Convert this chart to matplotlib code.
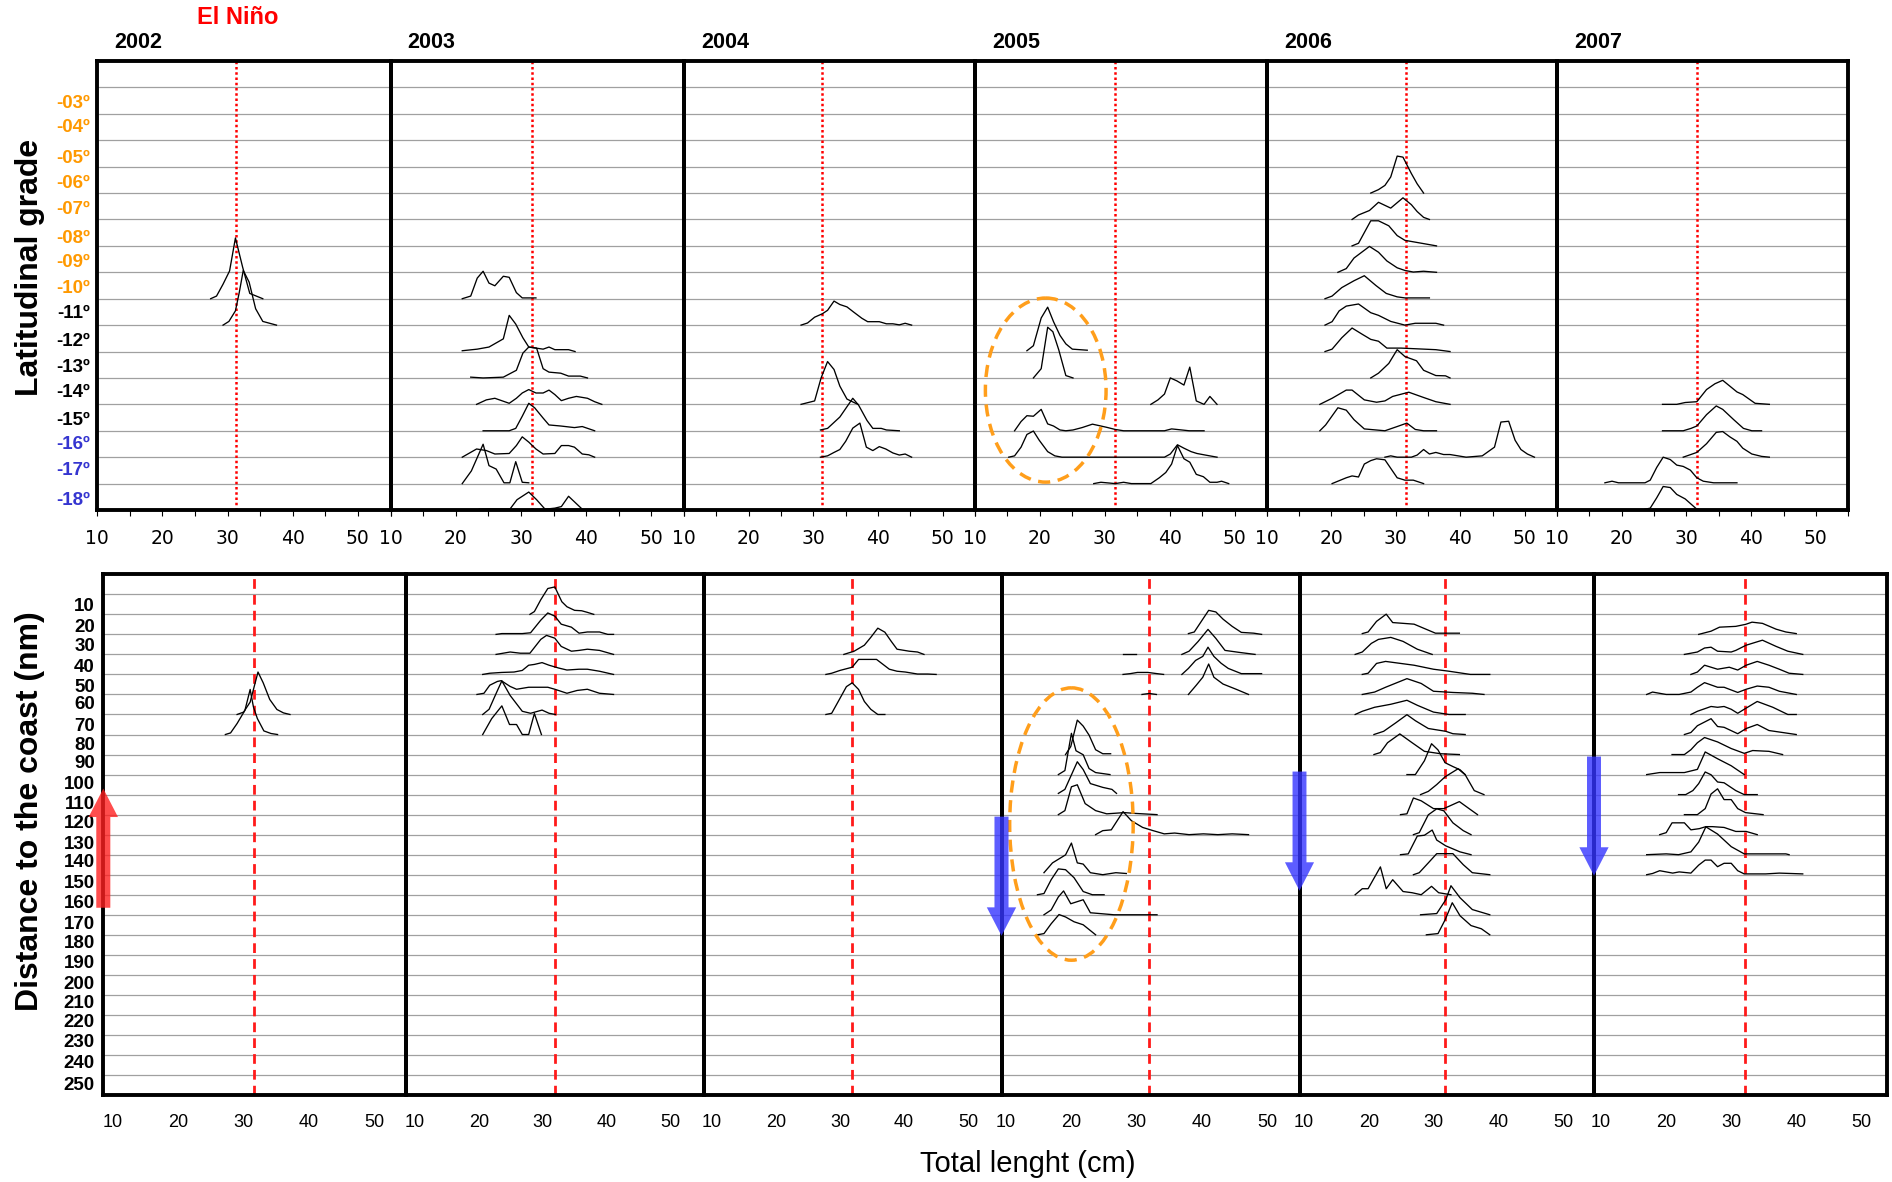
import matplotlib
matplotlib.use("Agg")
import matplotlib.pyplot as plt
from matplotlib.patches import Ellipse, FancyArrow

plt.rcParams['font.family'] = ['Liberation Sans', 'DejaVu Sans']

years = ['2002', '2003', '2004', '2005', '2006', '2007']

lat_labels = ['-03º', '-04º', '-05º', '-06º', '-07º', '-08º', '-09º', '-10º',
              '-11º', '-12º', '-13º', '-14º', '-15º', '-16º', '-17º', '-18º']
lat_pos = [1.54, 2.46, 3.62, 4.55, 5.54, 6.63, 7.55, 8.55,
           9.47, 10.54, 11.52, 12.46, 13.53, 14.46, 15.43, 16.57]
lat_colors = ['#ff9900'] * 8 + ['black'] * 5 + ['#3535d0'] * 3

dist_labels = [str(v) for v in range(10, 251, 10)]
dist_pos = [1.53, 2.57, 3.53, 4.57, 5.57, 6.42, 7.48, 8.44, 9.37, 10.4, 11.37, 12.35, 13.4,
            14.31, 15.35, 16.32, 17.4, 18.35, 19.35, 20.4, 21.34, 22.29, 23.26, 24.34, 25.41]

# reference length (red lines)
top_ref = [31.3, 31.7, 31.4, 31.5, 31.6, 31.6]
bot_ref = [31.6, 32.0, 31.8, 31.8, 31.8, 32.1]

# curves: (baseline row, total length cm, relative frequency in row units)
top_2002 = [
    (9, [27.4, 28.3, 29.3, 30.3, 31.2, 32.3, 33.4, 35.4], [0, 0.1, 0.55, 1.05, 2.3, 1.2, 0.2, 0]),
    (10, [29.3, 30.2, 31.2, 31.8, 32.4, 33.3, 34.3, 35.4, 37.5], [0, 0.14, 0.54, 1.25, 2.07, 1.63, 0.62, 0.14, 0]),
]
top_2003 = [
    (9, [21.0, 22.3, 23.3, 24.2, 25.1, 26.0, 27.3, 28.2, 29.3, 30.2, 32.3],
     [0, 0.1, 0.78, 1.04, 0.59, 0.49, 0.85, 0.81, 0.23, 0.03, 0.03]),
    (11, [21.0, 23.3, 25.1, 27.3, 28.2, 29.2, 30.3, 31.2, 32.3, 33.4, 34.3, 35.2, 37.3, 38.3],
     [0.03, 0.09, 0.17, 0.48, 1.37, 1.04, 0.52, 0.17, 0.13, 0.09, 0.17, 0.07, 0.07, 0]),
    (12, [22.3, 24.2, 27.3, 29.3, 30.3, 31.2, 32.4, 33.4, 34.3, 36.1, 37.3, 39.1, 40.2],
     [0.03, 0, 0.03, 0.29, 0.94, 1.17, 1.13, 0.35, 0.22, 0.18, 0.07, 0.07, 0]),
    (13, [23.2, 24.7, 26.0, 28.2, 29.3, 30.2, 31.2, 32.3, 33.4, 34.3, 35.2, 36.2, 37.3, 38.5, 40.2, 41.3, 42.4],
     [0, 0.17, 0.23, 0.04, 0.23, 0.43, 0.56, 0.43, 0.43, 0.54, 0.37, 0.14, 0.23, 0.3, 0.23, 0.1, 0]),
    (14, [24.2, 28.2, 29.2, 30.2, 31.2, 32.1, 33.4, 34.3, 36.1, 38.2, 39.4, 41.3],
     [0, 0, 0.09, 0.55, 1.04, 0.87, 0.48, 0.22, 0.18, 0.12, 0.16, 0]),
    (15, [21.0, 23.2, 24.7, 26.0, 28.2, 29.3, 30.2, 31.2, 32.3, 33.4, 35.2, 36.2, 37.3, 38.2, 39.4, 40.4, 41.3],
     [0, 0.31, 0.25, 0.12, 0.14, 0.44, 0.77, 0.57, 0.31, 0.12, 0.14, 0.44, 0.44, 0.38, 0.12, 0.09, 0]),
    (16, [21.0, 22.4, 24.2, 25.1, 26.2, 27.4, 28.3, 29.2, 30.2, 31.2],
     [0, 0.48, 1.49, 0.68, 0.55, 0.03, 0.03, 0.83, 0.05, 0.03]),
    (17, [23.6, 25.1, 28.3, 29.4, 31.2, 32.4, 33.7, 35.2, 36.2, 37.3, 39.4],
     [0.03, 0.04, 0.03, 0.39, 0.68, 0.39, 0.03, 0.07, 0.13, 0.52, 0.03]),
]
top_2004 = [
    (10, [28.1, 29.1, 30.2, 31.4, 32.2, 33.2, 34.1, 35.2, 36.2, 37.5, 38.4, 40.2, 41.3, 42.3, 43.3, 44.2, 45.2],
     [0, 0.08, 0.3, 0.43, 0.56, 0.91, 0.78, 0.69, 0.5, 0.26, 0.13, 0.13, 0.05, 0.05, 0.01, 0.07, 0]),
    (13, [28.1, 30.2, 31.2, 32.2, 33.2, 34.1, 35.2, 36.2, 36.9], [0, 0.13, 1.0, 1.62, 1.32, 0.69, 0.2, 0.08, 0]),
    (14, [31.1, 32.2, 34.1, 36.1, 37.0, 38.3, 39.2, 40.5, 41.3, 43.3],
     [0.03, 0.09, 0.52, 1.23, 0.97, 0.39, 0.09, 0.09, 0.03, 0]),
    (15, [31.1, 32.2, 33.2, 34.1, 35.0, 36.1, 37.2, 38.2, 39.2, 40.2, 41.2, 42.3, 43.3, 44.2, 45.2],
     [0, 0.05, 0.18, 0.29, 0.6, 1.1, 1.29, 0.38, 0.25, 0.4, 0.31, 0.16, 0.08, 0.12, 0]),
]
top_2005 = [
    (11, [18.0, 19.0, 20.2, 21.2, 22.1, 23.1, 24.0, 25.0, 27.3], [0.03, 0.22, 1.27, 1.68, 1.13, 0.61, 0.29, 0.09, 0.05]),
    (12, [19.0, 20.2, 21.2, 22.0, 22.9, 24.0, 25.1], [0, 0.35, 1.92, 1.75, 1.07, 0.09, 0]),
    (13, [37.1, 38.2, 39.2, 40.1, 41.1, 42.2, 43.1, 44.1, 45.3, 46.2, 47.3],
     [0, 0.17, 0.39, 1.0, 0.89, 0.73, 1.41, 0.13, 0, 0.3, 0]),
    (14, [16.1, 17.1, 18.0, 19.0, 20.2, 21.2, 22.1, 23.1, 24.0, 25.1, 26.5, 28.1, 29.4, 30.3, 31.6, 32.9, 37.9, 39.2,
          40.3, 41.1, 43.0, 45.3],
     [0, 0.35, 0.57, 0.55, 0.81, 0.26, 0.18, 0.03, 0, 0.03, 0.12, 0.25, 0.18, 0.13, 0.05, 0, 0, 0, 0.07, 0.05, 0, 0]),
    (15, [15.2, 16.1, 17.1, 18.0, 19.0, 19.9, 21.2, 22.3, 23.4, 39.2, 40.1, 41.2, 42.2, 43.3, 44.2, 45.5, 47.3],
     [0, 0.05, 0.38, 0.86, 0.99, 0.64, 0.21, 0.05, 0, 0, 0.12, 0.47, 0.34, 0.21, 0.14, 0.08, 0]),
    (16, [28.3, 29.4, 30.3, 31.6, 32.9, 34.1, 37.1, 38.4, 39.4, 40.3, 41.2, 42.2, 43.1, 44.1, 45.2, 46.2, 47.3, 48.0, 49.1],
     [0, 0.05, 0.03, 0, 0.05, 0, 0, 0.22, 0.42, 0.74, 1.44, 0.94, 0.81, 0.35, 0.26, 0.05, 0.05, 0.09, 0]),
]
top_2006 = [
    (5, [26.1, 27.3, 28.3, 29.2, 30.2, 31.1, 32.4, 33.3, 34.3], [0, 0.13, 0.29, 0.61, 1.4, 1.36, 0.74, 0.35, 0]),
    (6, [23.2, 24.2, 25.9, 27.3, 29.2, 31.1, 32.4, 33.3, 34.3, 35.2], [0, 0.17, 0.34, 0.65, 0.43, 0.82, 0.56, 0.3, 0.08, 0]),
    (7, [23.2, 24.2, 26.1, 27.3, 28.9, 30.2, 31.4, 36.3], [0, 0.1, 0.95, 0.95, 0.76, 0.39, 0.21, 0]),
    (8, [21.0, 22.3, 23.5, 25.9, 27.3, 28.6, 30.2, 31.4, 32.7, 34.3, 36.3],
     [0, 0.14, 0.54, 0.98, 0.76, 0.43, 0.17, 0.07, 0.01, 0.04, 0]),
    (9, [19.0, 20.1, 21.6, 23.5, 25.1, 26.9, 28.5, 30.2, 31.4, 35.2], [0, 0.1, 0.42, 0.68, 0.87, 0.5, 0.2, 0.07, 0.03, 0.03]),
    (10, [19.0, 20.1, 21.2, 22.3, 24.2, 26.1, 27.3, 29.2, 31.4, 33.0, 36.2, 37.4],
     [0, 0.13, 0.54, 0.72, 0.8, 0.47, 0.37, 0.14, 0, 0.07, 0.07, 0]),
    (11, [19.0, 20.1, 21.6, 23.2, 24.8, 26.1, 27.3, 28.6, 30.8, 36.2, 38.4],
     [0, 0.09, 0.52, 0.89, 0.65, 0.46, 0.39, 0.13, 0.13, 0.07, 0]),
    (12, [26.1, 27.3, 28.9, 30.2, 31.4, 33.2, 34.3, 36.2, 37.7, 38.4], [0, 0.18, 0.55, 1.07, 0.81, 0.65, 0.29, 0.09, 0.08, 0]),
    (13, [18.2, 20.1, 22.3, 23.2, 25.1, 27.0, 28.3, 29.5, 32.0, 34.3, 36.2, 38.4],
     [0, 0.23, 0.54, 0.54, 0.17, 0.08, 0.13, 0.3, 0.46, 0.26, 0.1, 0]),
    (14, [18.2, 19.1, 21.0, 22.3, 23.5, 25.1, 28.3, 30.2, 31.7, 33.0, 34.3, 36.3],
     [0, 0.22, 0.87, 0.78, 0.42, 0.07, 0, 0.16, 0.29, 0.05, 0, 0]),
    (15, [28.3, 29.2, 30.2, 32.4, 33.3, 34.3, 35.2, 36.2, 37.4, 38.4, 40.9, 43.4, 45.3, 46.3, 47.5, 48.5, 49.4, 50.4, 51.5],
     [0, 0.05, 0, 0, 0.08, 0.29, 0.12, 0.18, 0.1, 0.1, 0, 0.05, 0.38, 1.33, 1.36, 0.64, 0.29, 0.12, 0]),
    (16, [20.1, 22.3, 23.2, 24.2, 25.1, 26.1, 27.0, 28.3, 30.2, 31.4, 32.7, 34.3],
     [0, 0.22, 0.29, 0.25, 0.74, 0.87, 0.94, 0.9, 0.22, 0.13, 0.13, 0]),
]
top_2007 = [
    (13, [26.3, 28.5, 29.8, 31.6, 33.1, 34.4, 35.6, 36.7, 37.8, 38.7, 40.6, 42.8],
     [0, 0, 0.07, 0.1, 0.56, 0.78, 0.91, 0.69, 0.47, 0.37, 0.04, 0]),
    (14, [26.3, 29.5, 30.7, 31.6, 33.1, 34.6, 35.6, 37.3, 38.8, 40.1, 41.6], [0, 0, 0.09, 0.18, 0.61, 0.94, 0.81, 0.42, 0.09, 0, 0]),
    (15, [29.5, 31.6, 33.1, 34.6, 35.6, 36.7, 37.8, 38.7, 40.1, 41.6, 42.8], [0, 0.18, 0.51, 0.94, 0.97, 0.77, 0.6, 0.34, 0.12, 0.03, 0]),
    (16, [17.4, 18.5, 19.5, 23.6, 24.4, 25.4, 26.4, 27.5, 28.5, 29.5, 30.6, 31.6, 32.6, 34.2, 37.8],
     [0.03, 0.09, 0.03, 0.03, 0.13, 0.61, 1.0, 0.91, 0.7, 0.65, 0.51, 0.22, 0.09, 0.03, 0.03]),
    (17, [23.6, 24.4, 25.4, 26.4, 27.5, 28.5, 29.8, 31.6], [0.03, 0.07, 0.46, 0.89, 0.85, 0.59, 0.42, 0.03]),
]

bot_2002 = [
    (7, [29.0, 30.0, 31.0, 32.2, 33.0, 34.0, 35.1, 36.1, 37.1], [0, 0.12, 0.62, 2.12, 1.58, 0.75, 0.25, 0.08, 0]),
    (8, [27.2, 28.0, 29.0, 30.2, 31.0, 31.5, 32.1, 33.1, 34.2, 35.2], [0, 0.08, 0.55, 1.21, 2.25, 1.38, 0.8, 0.18, 0.05, 0]),
]
bot_2003 = [
    (2, [28.0, 28.7, 29.7, 30.8, 31.9, 33.0, 33.8, 35.0, 36.1, 37.0, 38.0], [0, 0.14, 0.73, 1.29, 1.37, 0.63, 0.38, 0.2, 0.18, 0.1, 0]),
    (3, [22.7, 23.6, 26.8, 28.1, 29.7, 30.8, 31.9, 32.9, 34.5, 35.7, 37.0, 38.9, 40.2, 41.1],
     [0, 0.04, 0.04, 0.08, 0.71, 1.07, 0.91, 0.51, 0.36, 0.06, 0.12, 0.12, 0, 0]),
    (4, [22.7, 24.9, 26.5, 28.0, 29.7, 30.6, 31.9, 32.9, 34.5, 35.7, 37.0, 38.9, 41.1],
     [0, 0.12, 0.06, 0.06, 0.75, 0.95, 0.81, 0.4, 0.16, 0.2, 0.26, 0.2, 0]),
    (5, [20.6, 21.7, 23.6, 25.5, 26.8, 27.8, 28.7, 29.9, 31.0, 32.5, 33.8, 35.7, 37.0, 38.9, 41.1],
     [0, 0.06, 0.1, 0.12, 0.2, 0.46, 0.5, 0.59, 0.46, 0.32, 0.22, 0.26, 0.26, 0.16, 0]),
    (6, [19.7, 20.8, 21.7, 22.9, 23.5, 24.9, 25.9, 27.8, 30.8, 31.9, 33.8, 35.4, 37.0, 38.9, 41.1],
     [0, 0.06, 0.46, 0.65, 0.69, 0.4, 0.26, 0.36, 0.36, 0.26, 0.06, 0.2, 0.26, 0.06, 0]),
    (7, [20.6, 21.6, 22.7, 23.6, 24.9, 26.8, 28.1, 29.9, 31.0, 32.0], [0, 0.26, 1.05, 1.68, 0.95, 0.16, 0.06, 0.22, 0.06, 0]),
    (8, [20.6, 22.0, 23.6, 24.8, 25.9, 26.8, 27.8, 28.7, 29.8], [0, 0.79, 1.43, 0.5, 0.5, 0, 0, 1.05, 0]),
]
bot_2004 = [
    (4, [30.6, 32.2, 33.8, 34.8, 35.9, 37.0, 38.0, 38.9, 40.8, 42.1, 43.1], [0, 0.16, 0.46, 0.85, 1.31, 1.11, 0.65, 0.26, 0.16, 0.12, 0]),
    (5, [27.8, 28.7, 30.0, 31.9, 32.9, 35.7, 37.7, 38.9, 40.2, 42.1, 43.7, 45.0],
     [0, 0.06, 0.2, 0.36, 0.75, 0.75, 0.26, 0.16, 0.12, 0.02, 0.02, 0]),
    (7, [27.8, 28.7, 29.9, 31.0, 31.9, 32.9, 33.8, 34.8, 35.9, 37.0], [0, 0.06, 0.75, 1.39, 1.58, 1.25, 0.65, 0.26, 0, 0]),
]
bot_2005 = [
    (3, [37.9, 38.8, 40.1, 41.0, 42.1, 43.2, 44.6, 46.0, 47.9, 49.1], [0.04, 0.12, 0.76, 1.2, 1.12, 0.76, 0.4, 0.1, 0.06, 0]),
    (4, [27.9, 29.9], [0, 0]),
    (4, [36.9, 38.0, 39.4, 40.9, 42.1, 43.5, 45.7, 48.1], [0, 0.16, 0.65, 1.25, 0.8, 0.2, 0.1, 0]),
    (5, [27.9, 29.0, 30.1, 31.7, 33.1, 34.1], [0, 0.04, 0.1, 0.1, 0.04, 0]),
    (5, [36.9, 37.9, 39.0, 40.1, 40.9, 41.8, 42.9, 44.0, 46.0, 49.1], [0, 0.3, 0.7, 0.9, 1.36, 0.9, 0.56, 0.3, 0.04, 0.04]),
    (6, [30.8, 31.9, 33.0], [0, 0.05, 0]),
    (6, [37.9, 39.1, 40.1, 41.0, 41.8, 43.2, 45.2, 47.1], [0, 0.46, 0.86, 1.52, 0.86, 0.52, 0.26, 0]),
    (9, [19.1, 19.9, 20.9, 21.8, 22.7, 23.7, 24.8, 26.0], [0, 0.4, 1.72, 1.42, 0.97, 0.24, 0.04, 0.04]),
    (10, [18.0, 19.0, 20.0, 20.7, 21.8, 22.7, 23.7, 25.9], [0, 0.2, 2.06, 1.19, 0.99, 0.3, 0.1, 0]),
    (11, [18.0, 19.0, 20.9, 21.8, 22.9, 24.8, 26.2, 26.9], [0.06, 0.26, 1.64, 1.25, 0.55, 0.36, 0.26, 0.06]),
    (12, [18.0, 19.0, 20.0, 20.9, 22.1, 23.7, 25.4, 28.1, 29.8, 33.1], [0, 0.2, 1.39, 1.49, 0.55, 0.2, 0.04, 0.1, 0.06, 0]),
    (13, [23.7, 24.8, 26.1, 27.9, 29.2, 30.9, 32.5, 34.2, 35.8, 38.0, 40.2, 42.4, 44.6, 47.1],
     [0, 0.2, 0.24, 1.15, 0.69, 0.36, 0.2, 0.04, 0.08, 0, 0.04, 0, 0.04, 0]),
    (15, [15.8, 17.1, 19.1, 20.0, 20.9, 21.8, 22.9, 24.8, 26.8, 28.4], [0.1, 0.59, 0.99, 1.58, 0.59, 0.53, 0.1, 0, 0.1, 0.06]),
    (16, [14.8, 15.8, 16.9, 18.0, 19.1, 20.4, 21.8, 23.2, 25.0], [0, 0.06, 0.75, 1.29, 1.25, 0.85, 0.16, 0, 0]),
    (17, [15.8, 16.9, 18.0, 18.8, 19.9, 21.8, 22.9, 26.5, 33.1], [0, 0.24, 0.89, 1.19, 0.55, 0.75, 0.1, 0, 0]),
    (18, [14.8, 15.8, 16.9, 18.1, 19.1, 20.4, 21.8, 23.7], [0, 0.06, 0.55, 1.01, 0.89, 0.65, 0.5, 0]),
]
bot_2006 = [
    (3, [19.0, 19.9, 21.2, 22.7, 23.7, 27.0, 30.3, 34.0], [0.04, 0.12, 0.65, 1.01, 0.59, 0.51, 0.06, 0.06]),
    (4, [17.9, 19.0, 20.4, 21.5, 23.4, 25.3, 27.5, 29.8], [0, 0.12, 0.55, 0.75, 0.85, 0.65, 0.26, 0]),
    (5, [19.0, 19.9, 21.2, 22.6, 27.0, 30.0, 32.4, 35.7, 38.7], [0, 0.06, 0.55, 0.65, 0.46, 0.26, 0.16, 0, 0]),
    (6, [19.0, 20.9, 22.6, 25.9, 28.1, 30.0, 33.0, 36.0, 37.8], [0, 0.12, 0.36, 0.79, 0.55, 0.16, 0.1, 0.06, 0]),
    (7, [17.9, 19.0, 20.9, 23.4, 25.9, 27.5, 30.0, 32.4, 34.9], [0, 0.16, 0.36, 0.51, 0.71, 0.46, 0.12, 0, 0]),
    (8, [20.8, 22.3, 24.2, 25.9, 27.2, 29.2, 31.9, 33.0, 34.9], [0, 0.16, 0.59, 0.99, 0.69, 0.3, 0.16, 0.04, 0]),
    (9, [20.8, 21.8, 22.9, 24.8, 26.7, 28.6, 31.1, 34.0], [0, 0.1, 0.59, 1.03, 0.59, 0.16, 0.04, 0]),
    (10, [25.9, 27.2, 28.6, 29.7, 30.7, 31.8, 33.0, 34.1, 34.9], [0, 0, 0.69, 1.54, 1.23, 0.59, 0.4, 0.24, 0]),
    (11, [28.0, 29.2, 30.5, 31.8, 33.8, 34.9, 36.3, 37.8], [0, 0.16, 0.5, 0.89, 1.29, 0.99, 0.2, 0]),
    (12, [24.9, 25.9, 26.9, 28.1, 30.0, 31.6, 34.0, 35.5, 36.8], [0, 0.04, 0.83, 0.69, 0.3, 0.3, 0.65, 0.3, 0]),
    (13, [26.9, 27.8, 29.2, 30.5, 31.6, 33.0, 34.6, 35.8], [0, 0.1, 0.99, 1.29, 1.19, 0.59, 0.2, 0]),
    (14, [24.9, 26.1, 27.5, 28.6, 29.8, 30.5, 31.9, 34.1, 35.8], [0, 0.04, 0.93, 0.97, 1.23, 0.73, 0.44, 0.14, 0]),
    (15, [26.9, 27.8, 29.2, 30.5, 33.0, 34.6, 36.0, 38.7], [0, 0.1, 0.59, 1.05, 1.05, 0.5, 0.1, 0]),
    (16, [17.9, 19.0, 19.9, 21.8, 22.7, 23.7, 25.3, 26.7, 28.1, 29.7, 30.8, 32.7],
     [0, 0.3, 0.3, 1.39, 0.3, 0.75, 0.16, 0.1, 0, 0.42, 0.1, 0]),
    (17, [28.0, 30.5, 31.9, 32.7, 34.1, 36.0, 38.7], [0, 0.06, 0.75, 1.45, 0.85, 0.26, 0]),
    (18, [28.9, 30.7, 31.8, 32.9, 34.1, 35.8, 37.4, 38.7], [0, 0.06, 0.75, 1.6, 0.95, 0.46, 0.3, 0]),
]
bot_2007 = [
    (3, [25.0, 26.9, 28.2, 30.7, 32.2, 33.2, 34.8, 36.9, 38.4, 40.0], [0, 0.16, 0.36, 0.4, 0.5, 0.61, 0.55, 0.26, 0.12, 0.04]),
    (4, [22.8, 24.8, 25.9, 26.9, 27.9, 30.0, 30.7, 32.3, 34.8, 36.9, 38.7, 41.0],
     [0, 0.12, 0.32, 0.36, 0.16, 0.12, 0.2, 0.46, 0.71, 0.4, 0.16, 0]),
    (5, [23.8, 24.8, 25.9, 27.9, 29.7, 31.0, 32.3, 34.0, 35.8, 37.4, 38.9, 41.0],
     [0, 0.12, 0.46, 0.26, 0.36, 0.22, 0.46, 0.65, 0.46, 0.26, 0.06, 0]),
    (6, [17.0, 17.9, 20.0, 22.0, 23.8, 24.8, 25.9, 27.9, 28.9, 31.0, 32.3, 34.0, 35.8, 37.4, 40.0],
     [0, 0.12, 0, 0, 0.12, 0.36, 0.59, 0.36, 0.36, 0.1, 0.26, 0.42, 0.36, 0.16, 0]),
    (7, [23.8, 24.8, 26.9, 27.9, 28.9, 30.0, 31.0, 32.3, 34.0, 36.4, 38.7, 40.0],
     [0, 0.16, 0.4, 0.36, 0.4, 0.26, 0.06, 0.32, 0.65, 0.36, 0, 0]),
    (8, [22.8, 23.8, 24.8, 26.9, 27.9, 28.9, 31.0, 32.3, 34.0, 35.8, 37.9, 40.0],
     [0, 0.1, 0.44, 0.79, 0.4, 0.36, 0.04, 0.3, 0.5, 0.2, 0.1, 0]),
    (9, [20.9, 22.8, 23.8, 24.8, 25.9, 27.9, 30.0, 32.0, 33.3, 35.8, 37.9], [0, 0, 0.24, 0.59, 0.85, 0.63, 0.3, 0.06, 0.2, 0.16, 0]),
    (10, [17.0, 19.0, 21.0, 22.8, 24.8, 26.0, 27.9, 30.0, 32.0], [0, 0.1, 0.1, 0.1, 0.26, 1.13, 0.79, 0.44, 0]),
    (11, [21.9, 23.0, 24.1, 25.0, 26.0, 26.9, 27.9, 28.9, 30.7, 32.0, 34.0], [0, 0, 0.2, 0.55, 1.13, 0.99, 0.63, 0.59, 0.2, 0, 0]),
    (12, [22.8, 24.8, 26.0, 26.9, 27.9, 28.9, 30.0, 31.0, 32.2, 34.9], [0, 0, 0.3, 1.03, 1.29, 0.75, 0.75, 0.3, 0.1, 0]),
    (13, [19.0, 20.0, 20.9, 22.8, 23.8, 25.1, 26.1, 27.1, 28.9, 30.7, 32.3, 34.0],
     [0, 0.1, 0.59, 0.59, 0.24, 0.3, 0.4, 0.4, 0.36, 0.16, 0.16, 0]),
    (14, [17.0, 20.0, 21.9, 23.8, 25.0, 26.1, 27.9, 30.0, 32.0, 38.4, 38.9], [0, 0.04, 0, 0.14, 0.63, 1.39, 1.03, 0.4, 0.04, 0.04, 0]),
    (15, [17.0, 17.9, 19.0, 21.0, 22.0, 23.8, 25.0, 26.0, 26.9, 27.9, 28.9, 30.0, 31.0, 32.0, 35.3, 37.4, 41.0],
     [0, 0.06, 0.2, 0.08, 0.14, 0.08, 0.48, 0.73, 0.73, 0.4, 0.57, 0.57, 0.2, 0.04, 0.04, 0.08, 0.04]),
]

top_curves = [top_2002, top_2003, top_2004, top_2005, top_2006, top_2007]
bot_curves = [bot_2002, bot_2003, bot_2004, bot_2005, bot_2006, bot_2007]

# shift arrows (panel, from row, to row)
arrow_panel = [0, 3, 4, 5]
arrow_from = [16.65, 12.1, 9.85, 9.1]
arrow_to = [10.7, 18.05, 15.8, 15.05]
arrow_color = ['#ff2020', '#3535ff', '#3535ff', '#3535ff']

W, H = 1892, 1182
fig = plt.figure(figsize=(W / 100, H / 100), dpi=100)


def px_box(l, t, r, b):
    return [l / W, 1 - b / H, (r - l) / W, (b - t) / H]


top_edges = [97.3, 390.5, 684, 975, 1267, 1557, 1848.3]
bot_edges = [103.3, 405.5, 703.5, 1001.5, 1299.5, 1594, 1887.3]
bot_xlim = [(8.5, 54.8), (8.5, 55.2), (8.7, 55.2), (9.3, 54.9), (9.3, 54.8), (8.9, 54.0)]

grid_color = '#a0a0a0'

for i, year in enumerate(years):
    # upper row: latitude
    ax = fig.add_axes(px_box(top_edges[i], 61, top_edges[i + 1], 510))
    ax.set_facecolor('none')
    ax.set_xlim(10, 55)
    ax.set_ylim(17, 0)
    for k in range(1, 17):
        ax.axhline(k, color=grid_color, lw=0.9, zorder=1)
    ax.axvline(top_ref[i], color='red', ls=(0, (1, 1.1)), lw=1.8, zorder=2)
    for base, xs, hs in top_curves[i]:
        ax.plot(xs, [base - h for h in hs], color='black', lw=0.95, zorder=3)
    ax.set_xticks(range(10, 51, 10))
    ax.set_xticks(range(15, 56, 10), minor=True)
    ax.tick_params(axis='x', which='both', direction='out', length=4.5, width=0.8, pad=9, labelsize=13.5)
    for lab in ax.get_xticklabels():
        lab.set_family('DejaVu Sans')
    if i == 0:
        ax.set_yticks(lat_pos)
        ax.set_yticklabels(lat_labels, fontsize=13.5, fontweight='bold')
        for lab, c in zip(ax.get_yticklabels(), lat_colors):
            lab.set_color(c)
        ax.tick_params(axis='y', length=0, pad=5)
    else:
        ax.set_yticks([])
    for s in ax.spines.values():
        s.set_linewidth(2.8)
    if year == '2005':
        ax.add_patch(Ellipse((20.9, 12.46), 18.6, 6.97, fill=False, ec='#ff9e1b', lw=2.5,
                             ls=(0, (3.5, 2.2)), zorder=4))
    fig.text((top_edges[i] + 17) / W, 1 - 43 / H, year, fontsize=15.5, fontweight='bold', va='center')

    # lower row: distance to the coast
    bx = fig.add_axes(px_box(bot_edges[i], 574.3, bot_edges[i + 1], 1095))
    bx.set_facecolor('none')
    bx.set_xlim(*bot_xlim[i])
    bx.set_ylim(26, 0)
    for k in range(1, 26):
        bx.axhline(k, color=grid_color, lw=0.9, zorder=1)
    bx.axvline(bot_ref[i], color='#ff1a1a', ls=(0, (3.5, 2.2)), lw=2, zorder=2)
    for base, xs, hs in bot_curves[i]:
        bx.plot(xs, [base - h for h in hs], color='black', lw=0.95, zorder=3)
    bx.set_xticks(range(10, 51, 10))
    bx.tick_params(axis='x', length=0, pad=14, labelsize=13)
    if i == 0:
        bx.set_yticks(dist_pos)
        bx.set_yticklabels(dist_labels, fontsize=13.5, fontweight='bold')
        bx.tick_params(axis='y', length=0, pad=6)
    else:
        bx.set_yticks([])
    for s in bx.spines.values():
        s.set_linewidth(2.8)
    if year == '2005':
        bx.add_patch(Ellipse((20.0, 12.47), 18.9, 13.6, fill=False, ec='#ff9e1b', lw=2.5,
                             ls=(0, (3.5, 2.2)), zorder=4))
    if i in arrow_panel:
        j = arrow_panel.index(i)
        x0 = bot_xlim[i][0]
        bx.add_patch(FancyArrow(x0, arrow_from[j], 0, arrow_to[j] - arrow_from[j], width=2.15,
                                head_width=4.5, head_length=1.42, length_includes_head=True,
                                fc=arrow_color[j], ec='none', alpha=0.8, clip_on=False, zorder=6))

fig.text(237.5 / W, 1 - 18 / H, 'El Niño', color='red', fontsize=17, fontweight='bold', ha='center', va='center')
fig.text(30 / W, 1 - 267 / H, 'Latitudinal grade', rotation=90, fontsize=23, fontweight='bold',
         ha='center', va='center')
fig.text(30 / W, 1 - 811 / H, 'Distance to the coast (nm)', rotation=90, fontsize=23, fontweight='bold',
         ha='center', va='center')
fig.text(1028 / W, 1 - 1164 / H, 'Total lenght (cm)', fontsize=21, ha='center', va='center')

fig.savefig('out.png', dpi=100)
